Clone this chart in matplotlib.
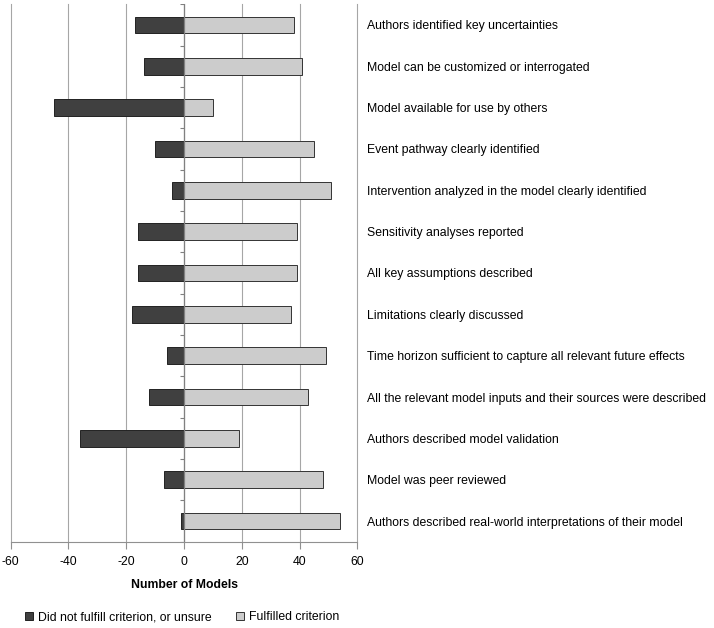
import numpy as np
import matplotlib
matplotlib.use("Agg")
import matplotlib.pyplot as plt
from matplotlib.patches import Patch

plt.rcParams['font.family'] = ['Liberation Sans', 'DejaVu Sans']

# criteria, top to bottom
criteria = [
    "Authors identified key uncertainties",
    "Model can be customized or interrogated",
    "Model available for use by others",
    "Event pathway clearly identified",
    "Intervention analyzed in the model clearly identified",
    "Sensitivity analyses reported",
    "All key assumptions described",
    "Limitations clearly discussed",
    "Time horizon sufficient to capture all relevant future effects",
    "All the relevant model inputs and their sources were described",
    "Authors described model validation",
    "Model was peer reviewed",
    "Authors described real-world interpretations of their model",
]
not_fulfilled = [17, 14, 45, 10, 4, 16, 16, 18, 6, 12, 36, 7, 1]
fulfilled = [38, 41, 10, 45, 51, 39, 39, 37, 49, 43, 19, 48, 54]

x_ticks = [-60, -40, -20, 0, 20, 40, 60]
x_ticklabels = ["-60", "-40", "-20", "0", "20", "40", "60"]

dark = "#404040"
light = "#cccccc"
grid_col = "#a6a6a6"
fs = 8.8

fig = plt.figure(figsize=(7.14, 6.28), dpi=100)
ax = fig.add_axes([0.015, 0.1374, 0.4855, 0.8558])

y = np.arange(len(criteria))
ax.barh(y, -np.array(not_fulfilled), height=0.4, color=dark,
        edgecolor="#222222", linewidth=0.7, zorder=3)
ax.barh(y, fulfilled, height=0.4, color=light,
        edgecolor="#333333", linewidth=0.7, zorder=3)

ax.set_xlim(-60, 60)
ax.set_ylim(len(criteria) - 0.5, -0.5)

# gridlines and axes
ax.set_xticks(x_ticks)
ax.set_xticklabels(x_ticklabels, fontsize=fs)
for xv in x_ticks:
    ax.axvline(xv, color=grid_col, linewidth=0.8, zorder=1, clip_on=False)
ax.axvline(0, color="#808080", linewidth=0.9, zorder=4)
ax.hlines(np.arange(-0.5, len(criteria)), -1.4, 0, color="#808080",
          linewidth=0.8, zorder=4)

for s in ["top", "right", "left"]:
    ax.spines[s].set_visible(False)
ax.spines["bottom"].set_color("#909090")
ax.tick_params(axis="x", color="#909090", length=5, width=0.8, pad=5)

# category labels on the right
ax.yaxis.tick_right()
ax.set_yticks(y)
ax.set_yticklabels(criteria, fontsize=fs)
ax.tick_params(axis="y", length=0, pad=7)

ax.set_xlabel("Number of Models", fontsize=fs, fontweight="bold", labelpad=8)

handles = [Patch(facecolor=dark, edgecolor="#222222", linewidth=0.7),
           Patch(facecolor=light, edgecolor="#333333", linewidth=0.7)]
fig.legend(handles, ["Did not fulfill criterion, or unsure", "Fulfilled criterion"],
           loc="center", bbox_to_anchor=(0.255, 0.0175), ncol=2, frameon=False,
           fontsize=fs, handlelength=0.65, handleheight=0.65, handletextpad=0.4,
           columnspacing=2.0)

fig.savefig("out.png", dpi=100)
